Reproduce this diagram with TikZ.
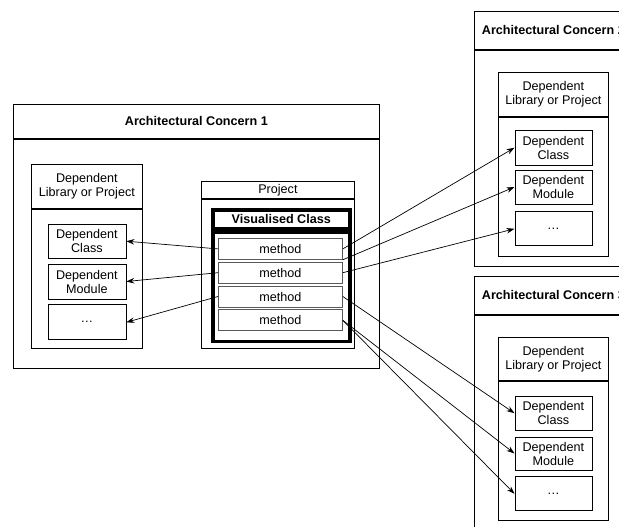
\documentclass[tikz,border=0pt]{standalone}
\usepackage{fontspec}
\setmainfont{Liberation Sans}
\usetikzlibrary{positioning}
\usetikzlibrary{arrows.meta}

\begin{document}
\begin{tikzpicture}[
                x = 1pt, y = -1pt,
                box/.style = {
                    draw,
                    line width = 0.8pt,
                    inner sep = 0pt,
                    align = center,
                    font = \fontsize{12.6}{14}\selectfont
                },
                head/.style = {
                    box,
                    font = \fontsize{12.6}{14}\selectfont\bfseries
                },
                method/.style = {
                    box,
                    draw = black!65,
                    minimum width = 124pt,
                    minimum height = 21pt
                },
                arr/.style = {
                    -{Stealth[length=8pt, width=5.5pt]},
                    line width = 0.7pt
                }
            ]

            \clip (0,0) rectangle (619,527);

            % Architectural Concern 1
            \node[head, anchor=north west, minimum width=366pt, minimum height=34pt] (c1h) at (13,104) {Architectural Concern 1};
            \node[box, minimum width=366pt, minimum height=229pt, below=0pt of c1h] (c1) {};

            \node[box, anchor=north west, minimum width=111pt, minimum height=44pt] (lib1h) at (31,164) {Dependent\\Library or Project};
            \node[box, minimum width=111pt, minimum height=139pt, below=0pt of lib1h] (lib1) {};
            \node[box, minimum width=78pt, minimum height=34pt, below=15pt of lib1h] (dc1) {Dependent\\Class};
            \node[box, minimum width=78pt, minimum height=35pt, below=5pt of dc1] (dm1) {Dependent\\Module};
            \node[box, minimum width=78pt, minimum height=35pt, below=5pt of dm1] (de1) {\dots};

            \node[box, anchor=north west, minimum width=153pt, minimum height=17pt] (ph) at (201,181) {Project};
            \node[box, minimum width=153pt, minimum height=149pt, below=0pt of ph] (p) {};

            \node[head, anchor=north west, line width=3.5pt, minimum width=137pt, minimum height=19pt] (vh) at (211,208) {Visualised Class};
            \node[box, line width=3.5pt, minimum width=137pt, minimum height=109pt, below=0pt of vh] (v) {};

            \node[method, anchor=north west] (m1) at (218,238) {method};
            \node[method, below=2pt of m1] (m2) {method};
            \node[method, below=2pt of m2] (m3) {method};
            \node[method, below=2pt of m3] (m4) {method};

            % Architectural Concern 2
            \node[head, anchor=north west, minimum width=158pt, minimum height=38pt] (c2h) at (474,11) {Architectural Concern 2};
            \node[box, minimum width=158pt, minimum height=216pt, below=0pt of c2h] (c2) {};

            \node[box, anchor=north west, minimum width=110pt, minimum height=44pt] (lib2h) at (498,72) {Dependent\\Library or Project};
            \node[box, minimum width=110pt, minimum height=139pt, below=0pt of lib2h] (lib2) {};
            \node[box, minimum width=77pt, minimum height=35pt, below=13pt of lib2h] (dc2) {Dependent\\Class};
            \node[box, minimum width=77pt, minimum height=34pt, below=4pt of dc2] (dm2) {Dependent\\Module};
            \node[box, minimum width=77pt, minimum height=34pt, below=7pt of dm2] (de2) {\dots};

            % Architectural Concern 3
            \node[head, anchor=north west, minimum width=158pt, minimum height=38pt] (c3h) at (474,276) {Architectural Concern 3};
            \node[box, minimum width=158pt, minimum height=230pt, below=0pt of c3h] (c3) {};

            \node[box, anchor=north west, minimum width=110pt, minimum height=43pt] (lib3h) at (498,337) {Dependent\\Library or Project};
            \node[box, minimum width=110pt, minimum height=139pt, below=0pt of lib3h] (lib3) {};
            \node[box, minimum width=77pt, minimum height=34pt, below=15pt of lib3h] (dc3) {Dependent\\Class};
            \node[box, minimum width=77pt, minimum height=33pt, below=6pt of dc3] (dm3) {Dependent\\Module};
            \node[box, minimum width=77pt, minimum height=34pt, below=6pt of dm3] (de3) {\dots};

            % calls
            \draw[arr] (m1.west) -- (dc1.east);
            \draw[arr] (m2.west) -- (dm1.east);
            \draw[arr] (m3.west) -- (de1.east);

            \draw[arr] (m1.east) -- (dc2.west);
            \draw[arr] (m1.south east) -- (dm2.west);
            \draw[arr] (m2.east) -- (de2.west);

            \draw[arr] (m3.east) -- (dc3.west);
            \draw[arr] (m4.east) -- (dm3.west);
            \draw[arr] (m4.east) -- (de3.west);

\end{tikzpicture}
\end{document}
